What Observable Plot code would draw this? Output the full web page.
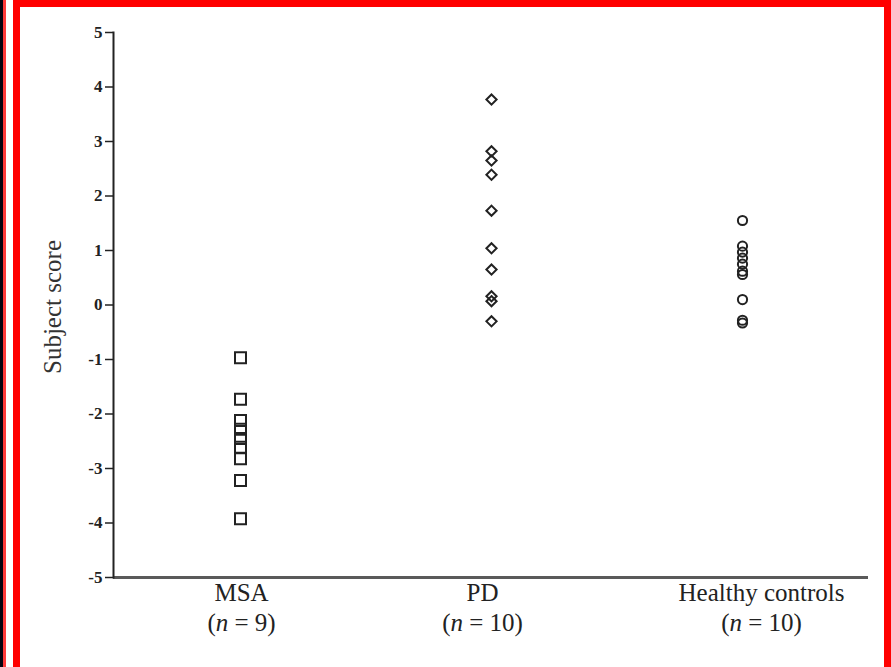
<!DOCTYPE html>
<html>
<head>
<meta charset="utf-8">
<script src="https://cdn.jsdelivr.net/npm/d3@7"></script>
<script src="https://cdn.jsdelivr.net/npm/@observablehq/plot@0.6"></script>
<style>
  html, body { margin: 0; padding: 0; background: #fff; }
  #wrap { position: relative; width: 891px; height: 667px; overflow: hidden; background: #fff; }
  #wrap svg { position: absolute; left: 0; top: 0; }
  .bar { position: absolute; }
</style>
</head>
<body>
<div id="wrap">
  <div id="chart"></div>
  <div class="bar" style="left:0;top:0;width:3px;height:667px;background:#05030f"></div>
  <div class="bar" style="left:3px;top:0;width:3px;height:667px;background:#ff3a3a"></div>
  <div class="bar" style="left:13px;top:0;width:7px;height:667px;background:#ff0000"></div>
  <div class="bar" style="left:13px;top:0;width:878px;height:7px;background:#ff0000"></div>
  <div class="bar" style="left:884px;top:0;width:7px;height:667px;background:#ff0000"></div>
</div>
<script>
const groups = ["MSA", "PD", "Healthy controls"];
const groupN = [9, 10, 10];
const msaScores = [-0.97, -1.73, -2.12, -2.28, -2.45, -2.61, -2.82, -3.22, -3.92];
const pdScores = [3.77, 2.82, 2.65, 2.39, 1.73, 1.04, 0.65, 0.16, 0.07, -0.30];
const hcScores = [1.55, 1.08, 0.97, 0.86, 0.75, 0.62, 0.56, 0.10, -0.28, -0.33];
const yTicks = [5, 4, 3, 2, 1, 0, -1, -2, -3, -4, -5];
const yLabel = "Subject score";

const msaRows = msaScores.map(v => ({group: groups[0], value: v}));
const pdRows = pdScores.map(v => ({group: groups[1], value: v}));
const hcRows = hcScores.map(v => ({group: groups[2], value: v}));
const nRows = groups.map((g, i) => ({group: g, n: groupN[i]}));

const serif = "'Liberation Serif', 'DejaVu Serif', serif";
// small horizontal nudges of the category labels, as in the original figure
const labelNudge = [1, -9, 19];

const labelMarks = nRows.flatMap((row, i) => [
  Plot.text([row], {x: "group", frameAnchor: "bottom", dy: 23, dx: labelNudge[i], text: "group",
    fontSize: 25, fill: "#222"}),
  Plot.text([row], {x: "group", frameAnchor: "bottom", dy: 53, dx: labelNudge[i], text: d => `(n = ${d.n})`,
    fontSize: 25, fill: "#222", className: "n-label"})
]);

const chart = Plot.plot({
  width: 891,
  height: 667,
  marginLeft: 113,
  marginRight: 23,
  marginTop: 32,
  marginBottom: 90,
  style: {fontFamily: serif, background: "transparent", color: "#222"},
  x: {type: "point", domain: groups, padding: 0.5, axis: null},
  y: {domain: [-5, 5], axis: null},
  marks: [
    Plot.ruleY([-5], {stroke: "#5a5a5a", strokeWidth: 3}),
    Plot.frame({anchor: "left", stroke: "#222", strokeWidth: 2}),
    Plot.axisY({ticks: yTicks, tickSize: 8, tickPadding: 3, tickFormat: d => String(d),
      fontSize: 17, fontWeight: "bold", stroke: "#222", strokeWidth: 1.5, label: null}),
    Plot.text([yLabel], {frameAnchor: "left", dx: -61, dy: 2, rotate: -90, textAnchor: "middle",
      fontSize: 25, fill: "#333"}),
    Plot.dot(msaRows, {x: "group", y: "value", symbol: "square", r: 6.2, fill: "none", stroke: "#222", strokeWidth: 2}),
    Plot.dot(pdRows, {x: "group", y: "value", symbol: "diamond2", r: 4.6, fill: "none", stroke: "#222", strokeWidth: 2}),
    Plot.dot(hcRows, {x: "group", y: "value", symbol: "circle", r: 4.6, fill: "none", stroke: "#222", strokeWidth: 2}),
    ...labelMarks
  ]
});
document.getElementById("chart").appendChild(chart);

// italicize the "n" in the sample-size labels
chart.querySelectorAll(".n-label text").forEach((t, i) => {
  const n = groupN[i];
  t.textContent = "";
  t.appendChild(document.createTextNode("("));
  const ts = document.createElementNS("http://www.w3.org/2000/svg", "tspan");
  ts.setAttribute("font-style", "italic");
  ts.textContent = "n";
  t.appendChild(ts);
  t.appendChild(document.createTextNode(` = ${n})`));
});
</script>
</body>
</html>
